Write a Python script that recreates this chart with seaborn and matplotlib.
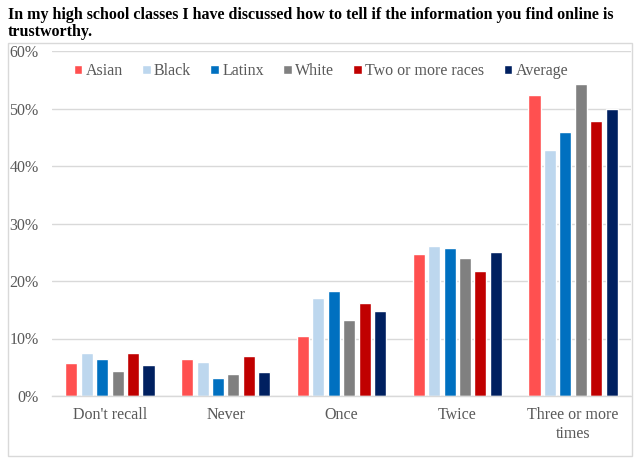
import matplotlib
matplotlib.use("Agg")
import matplotlib.pyplot as plt
from matplotlib.patches import Rectangle
from matplotlib.ticker import PercentFormatter
import seaborn as sns
import pandas as pd

categories = ["Don't recall", "Never", "Once", "Twice", "Three or more\ntimes"]
groups = ["Asian", "Black", "Latinx", "White", "Two or more races", "Average"]
asian = [5.8, 6.5, 10.4, 24.7, 52.4]
black = [7.5, 5.9, 17.1, 26.1, 42.8]
latinx = [6.5, 3.2, 18.3, 25.8, 45.9]
white = [4.4, 3.9, 13.2, 24.0, 54.3]
two_or_more = [7.5, 6.9, 16.2, 21.7, 47.9]
average = [5.4, 4.1, 14.8, 25.0, 50.0]
colors = ["#FF5050", "#BDD7EE", "#0070C0", "#808080", "#C00000", "#002060"]
title_lines = ["In my high school classes I have discussed how to tell if the information you find online is",
               "trustworthy."]

series = [asian, black, latinx, white, two_or_more, average]
rows = []
for g, vals in zip(groups, series):
    for c, v in zip(categories, vals):
        rows.append({"category": c, "group": g, "value": v})
df = pd.DataFrame(rows)

sns.set_theme(style="white")
plt.rcParams["font.family"] = ["Liberation Serif", "DejaVu Serif"]

fig = plt.figure(figsize=(6.4, 4.65), dpi=100)
W, H = 640, 465
ax = fig.add_axes([52 / W, 1 - 396 / H, (631 - 52) / W, (396 - 51) / H])

sns.barplot(data=df, x="category", y="value", hue="group", order=categories,
            hue_order=groups, palette=colors, width=0.8, gap=0.22,
            saturation=1, ax=ax, legend=True)

ax.set_ylim(0, 60)
ax.set_yticks(range(0, 61, 10))
ax.yaxis.set_major_formatter(PercentFormatter(decimals=0))
ax.grid(axis="y", color="#D9D9D9", linewidth=1)
ax.set_axisbelow(True)
for s in ["top", "right", "left"]:
    ax.spines[s].set_visible(False)
ax.spines["bottom"].set_color("#D9D9D9")
ax.spines["bottom"].set_linewidth(1)
ax.set_xlabel("")
ax.set_ylabel("")
ax.tick_params(axis="both", length=0, labelsize=11.5, colors="#595959")
ax.tick_params(axis="y", pad=9.5)
ax.tick_params(axis="x", pad=8)
ax.set_xlim(-0.5, 4.5)

handles, labels = ax.get_legend_handles_labels()
leg = ax.legend(handles, labels, loc="center", bbox_to_anchor=((321 - 52) / 579, (396 - 71) / 345),
                ncol=6, frameon=False, fontsize=11.5, handlelength=0.55, handleheight=0.55,
                handletextpad=0.2, columnspacing=1.2, borderaxespad=0)
for t in leg.get_texts():
    t.set_color("#595959")

fig.text(8 / W, 1 - 19 / H, title_lines[0], ha="left", va="baseline", fontsize=11.5,
         fontweight="bold", color="black")
fig.text(8 / W, 1 - 36 / H, title_lines[1], ha="left", va="baseline", fontsize=11.5,
         fontweight="bold", color="black")

fig.patches.append(Rectangle((8 / W, 1 - 456 / H), (632 - 8) / W, (456 - 43) / H,
                             transform=fig.transFigure, fill=False, edgecolor="#D9D9D9",
                             linewidth=1))

fig.savefig("out.png", dpi=100)
